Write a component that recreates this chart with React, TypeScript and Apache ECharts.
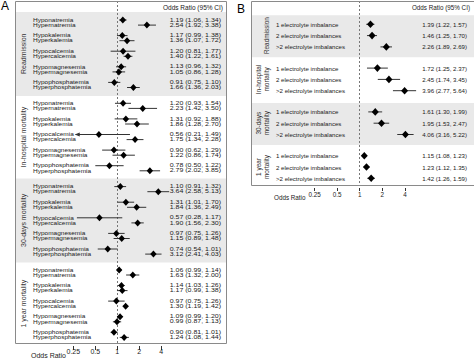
import React, { useEffect, useRef } from "react";
import * as echarts from "echarts";

// ---------------- Panel A data ----------------
const outcomesA = ["Readmission", "In-hospital mortality", "30-days mortality", "1 year mortality"];
const conditionsA = [
  "Hyponatremia", "Hypernatremia", "Hypokalemia", "Hyperkalemia", "Hypocalcemia",
  "Hypercalcemia", "Hypomagnesemia", "Hypermagnesemia", "Hypophosphatemia", "Hyperphosphatemia",
];
const readmissionOR = [1.19, 2.54, 1.17, 1.36, 1.2, 1.4, 1.13, 1.05, 0.91, 1.66];
const readmissionLo = [1.06, 1.92, 0.99, 1.07, 0.81, 1.22, 0.96, 0.86, 0.75, 1.36];
const readmissionHi = [1.34, 3.38, 1.38, 1.72, 1.77, 1.61, 1.32, 1.28, 1.1, 2.03];
const inHospitalOR = [1.2, 2.23, 1.31, 1.86, 0.56, 1.75, 0.9, 1.22, 0.78, 2.79];
const inHospitalLo = [0.93, 1.42, 0.92, 1.28, 0.21, 1.34, 0.62, 0.86, 0.5, 2.02];
const inHospitalHi = [1.54, 3.5, 1.88, 2.7, 1.49, 2.28, 1.29, 1.74, 1.22, 3.85];
const day30OR = [1.1, 3.64, 1.31, 1.84, 0.57, 1.9, 0.97, 1.15, 0.74, 3.12];
const day30Lo = [0.91, 2.58, 1.01, 1.36, 0.28, 1.56, 0.75, 0.89, 0.54, 2.41];
const day30Hi = [1.32, 5.13, 1.7, 2.49, 1.17, 2.3, 1.26, 1.48, 1.01, 4.03];
const year1OR = [1.06, 1.63, 1.14, 1.17, 0.97, 1.3, 1.09, 0.99, 0.9, 1.24];
const year1Lo = [0.99, 1.32, 1.03, 0.99, 0.75, 1.19, 0.99, 0.87, 0.81, 1.08];
const year1Hi = [1.14, 2.0, 1.26, 1.38, 1.26, 1.42, 1.2, 1.13, 1.01, 1.44];

// ---------------- Panel B data ----------------
const outcomesB = ["Readmission", "In-hospital\nmortality", "30-days\nmortality", "1 year\nmortality"];
const imbalancesB = ["1 electrolyte imbalance", "2 electrolyte imbalances", ">2 electrolyte imbalances"];
const bReadmissionOR = [1.39, 1.46, 2.26];
const bReadmissionLo = [1.22, 1.25, 1.89];
const bReadmissionHi = [1.57, 1.7, 2.69];
const bInHospitalOR = [1.72, 2.45, 3.96];
const bInHospitalLo = [1.25, 1.74, 2.77];
const bInHospitalHi = [2.37, 3.45, 5.64];
const bDay30OR = [1.61, 1.95, 4.06];
const bDay30Lo = [1.3, 1.53, 3.16];
const bDay30Hi = [1.99, 2.47, 5.22];
const bYear1OR = [1.15, 1.23, 1.42];
const bYear1Lo = [1.08, 1.12, 1.26];
const bYear1Hi = [1.23, 1.35, 1.59];

const tickValues = [0.25, 0.5, 1, 2, 4];
const headerText = "Odds Ratio (95% CI)";
const axisTitle = "Odds Ratio";

const FONT = "'Liberation Sans', Arial, sans-serif";
const TEXT = "#222";
const BAND = "#e9e9e9";

type Row = { label: string; or: number; lo: number; hi: number; group: number; idx: number };

function buildRows(labels: string[], ors: number[][], los: number[][], his: number[][]): Row[] {
  const rows: Row[] = [];
  ors.forEach((grp, g) => {
    grp.forEach((v, i) => {
      rows.push({ label: labels[i], or: v, lo: los[g][i], hi: his[g][i], group: g, idx: i });
    });
  });
  return rows;
}

const rowsA = buildRows(
  conditionsA,
  [readmissionOR, inHospitalOR, day30OR, year1OR],
  [readmissionLo, inHospitalLo, day30Lo, year1Lo],
  [readmissionHi, inHospitalHi, day30Hi, year1Hi]
);
const rowsB = buildRows(
  imbalancesB,
  [bReadmissionOR, bInHospitalOR, bDay30OR, bYear1OR],
  [bReadmissionLo, bInHospitalLo, bDay30Lo, bYear1Lo],
  [bReadmissionHi, bInHospitalHi, bDay30Hi, bYear1Hi]
);

const fmt = (v: number) => v.toFixed(2);

type Panel = {
  rows: Row[];
  groups: string[];
  perGroup: number;
  left: number; right: number; top: number; bottom: number;
  x1: number; ppd: number;
  rowY: (g: number, i: number) => number;
  bandTop: number; bandBottom: number;
  labelX: number; valueX: number; headerX: number; headerY: number;
  groupX: (s: string) => number;
  labelSize: number; valueSize: number; headerSize: number; tickSize: number; groupSize: number;
  labelScaleY: number; valueScaleY: number;
  dw: number; dh: number;
  clip: number;
  axisOffset: number; tickLen: number; labelMargin: number;
  titleX: number; titleY: number;
  letter: string; letterX: number; letterY: number;
};

const panelA: Panel = {
  rows: rowsA, groups: outcomesA, perGroup: 10,
  left: 15, right: 226, top: 1, bottom: 343,
  x1: 117.3, ppd: 22,
  rowY: (g, i) => 20 + 83.3 * g + 15.6 * Math.floor(i / 2) + 5.1 * (i % 2),
  bandTop: -8, bandBottom: 76,
  labelX: 33, valueX: 221, headerX: 223, headerY: 7,
  groupX: () => 23,
  labelSize: 6.5, valueSize: 7, headerSize: 6.5, tickSize: 7, groupSize: 7,
  labelScaleY: 0.76, valueScaleY: 0.7,
  dw: 3.2, dh: 3.5,
  clip: 0.27,
  axisOffset: 3, tickLen: 4, labelMargin: 2,
  titleX: 31, titleY: 355,
  letter: "A", letterX: 1, letterY: 6,
};

const panelB: Panel = {
  rows: rowsB, groups: outcomesB, perGroup: 3,
  left: 251, right: 476, top: 1, bottom: 185,
  x1: 360.7, ppd: 22.8,
  rowY: (g, i) => 24.3 + 43.8 * g + 11.3 * i,
  bandTop: -9, bandBottom: 33,
  labelX: 276, valueX: 467, headerX: 470, headerY: 7,
  groupX: (s) => (s.indexOf("\n") >= 0 ? 262 : 266.5),
  labelSize: 6.1, valueSize: 6.1, headerSize: 6.3, tickSize: 6.3, groupSize: 6.4,
  labelScaleY: 1, valueScaleY: 1,
  dw: 3.5, dh: 3.8,
  clip: 0.27,
  axisOffset: 3, tickLen: 3, labelMargin: 3,
  titleX: 274, titleY: 197,
  letter: "B", letterX: 237, letterY: 9,
};

const panels = [panelA, panelB];
const log2 = (v: number) => Math.log(v) / Math.LN2;

function buildOption() {
  const grid: any[] = [];
  const xAxis: any[] = [];
  const yAxis: any[] = [];
  const series: any[] = [];
  const graphic: any[] = [];

  panels.forEach((p, pi) => {
    grid.push({ left: p.left, top: p.top, width: p.right - p.left, height: p.bottom - p.top, show: false });
    const tl = tickValues.map(log2);
    xAxis.push({
      type: "value", gridIndex: pi,
      min: (p.left - p.x1) / p.ppd, max: (p.right - p.x1) / p.ppd,
      position: "bottom", offset: p.axisOffset,
      axisLine: { show: false },
      axisTick: { show: true, length: p.tickLen, customValues: tl, lineStyle: { color: "#333", width: 1 } },
      axisLabel: {
        customValues: tl,
        formatter: (v: number) => String(+Math.pow(2, v).toFixed(2)),
        fontSize: p.tickSize, color: TEXT, fontFamily: FONT, margin: p.labelMargin,
        hideOverlap: false,
      },
      splitLine: { show: false },
    });
    yAxis.push({ type: "value", gridIndex: pi, min: p.top, max: p.bottom, inverse: true, show: false });

    const bands: any[] = [];
    p.groups.forEach((_, g) => {
      if (g % 2 === 0) {
        const s = p.rowY(g, 0);
        bands.push([{ yAxis: s + p.bandTop }, { yAxis: s + p.bandBottom }]);
      }
    });

    series.push({
      type: "line", xAxisIndex: pi, yAxisIndex: pi, data: [], silent: true, z: 1,
      markArea: { silent: true, z: 1, itemStyle: { color: BAND, borderWidth: 0 }, label: { show: false }, data: bands },
      markLine: {
        silent: true, symbol: ["none", "none"], z: 2, label: { show: false },
        lineStyle: { color: "#777", type: [2, 2], width: 1 },
        data: [{ xAxis: 0 }],
      },
    });

    const rows = p.rows;
    const clipL = log2(p.clip);
    series.push({
      type: "custom", xAxisIndex: pi, yAxisIndex: pi, z: 3, silent: true, clip: false,
      encode: { x: [0, 1, 2], y: 3 },
      data: rows.map((r) => [
        log2(r.or), Math.max(log2(r.lo), clipL), log2(r.hi),
        p.rowY(r.group, r.idx), log2(r.lo) < clipL ? 1 : 0,
      ]),
      renderItem: (params: any, api: any) => {
        const r = rows[params.dataIndex];
        const yv = api.value(3);
        const c = api.coord([api.value(0), yv]);
        const cl = api.coord([api.value(1), yv]);
        const ch = api.coord([api.value(2), yv]);
        const y = c[1];
        const children: any[] = [
          { type: "line", shape: { x1: cl[0], y1: y, x2: ch[0], y2: y }, style: { stroke: "#333", lineWidth: 1 } },
        ];
        if (api.value(4) === 1) {
          children.push({
            type: "polygon",
            shape: { points: [[cl[0] - 1, y], [cl[0] + 4, y - 2], [cl[0] + 4, y + 2]] },
            style: { fill: "#333" },
          });
        }
        children.push(
          {
            type: "polygon",
            shape: { points: [[c[0] - p.dw, y], [c[0], y - p.dh], [c[0] + p.dw, y], [c[0], y + p.dh]] },
            style: { fill: "#000" },
          },
          {
            type: "text", x: p.labelX, y, scaleY: p.labelScaleY,
            style: { text: r.label, fill: TEXT, fontSize: p.labelSize, fontFamily: FONT, align: "left", verticalAlign: "middle" },
          },
          {
            type: "text", x: p.valueX, y, scaleY: p.valueScaleY,
            style: {
              text: `${fmt(r.or)} (${fmt(r.lo)}, ${fmt(r.hi)})`,
              fill: TEXT, fontSize: p.valueSize, fontFamily: FONT, align: "right", verticalAlign: "middle",
            },
          }
        );
        return { type: "group", children };
      },
    });

    // frame
    graphic.push({
      type: "rect", z: 100, silent: true,
      shape: { x: p.left + 0.5, y: p.top + 0.5, width: p.right - p.left, height: p.bottom - p.top },
      style: { fill: "none", stroke: "#8a8a8a", lineWidth: 1 },
    });
    graphic.push({
      type: "text", x: p.headerX, y: p.headerY, z: 101,
      style: { text: headerText, fill: TEXT, fontSize: p.headerSize, fontFamily: FONT, align: "right", verticalAlign: "middle" },
    });
    graphic.push({
      type: "text", x: p.titleX, y: p.titleY, z: 101,
      style: { text: axisTitle, fill: TEXT, fontSize: p.tickSize, fontFamily: FONT, align: "left", verticalAlign: "middle" },
    });
    graphic.push({
      type: "text", x: p.letterX, y: p.letterY, z: 101,
      style: { text: p.letter, fill: "#000", fontSize: 12, fontFamily: FONT, align: "left", verticalAlign: "middle" },
    });
    p.groups.forEach((gname, g) => {
      const yc = (p.rowY(g, 0) + p.rowY(g, p.perGroup - 1)) / 2;
      graphic.push({
        type: "text", x: p.groupX(gname), y: yc, rotation: Math.PI / 2, z: 101,
        style: {
          text: gname, fill: "#333", fontSize: p.groupSize, fontFamily: FONT,
          align: "center", verticalAlign: "middle", lineHeight: 8,
        },
      });
    });
  });

  return {
    animation: false,
    backgroundColor: "#fff",
    grid, xAxis, yAxis, series, graphic,
  };
}

export default function App() {
  const ref = useRef<HTMLDivElement>(null);
  useEffect(() => {
    if (!ref.current) return;
    const chart = echarts.init(ref.current, null, { renderer: "svg" });
    chart.setOption(buildOption() as any);
    return () => chart.dispose();
  }, []);
  return (
    <div
      ref={ref}
      style={{ position: "absolute", left: 0, top: 0, width: 474, height: 358, background: "#fff" }}
    />
  );
}
